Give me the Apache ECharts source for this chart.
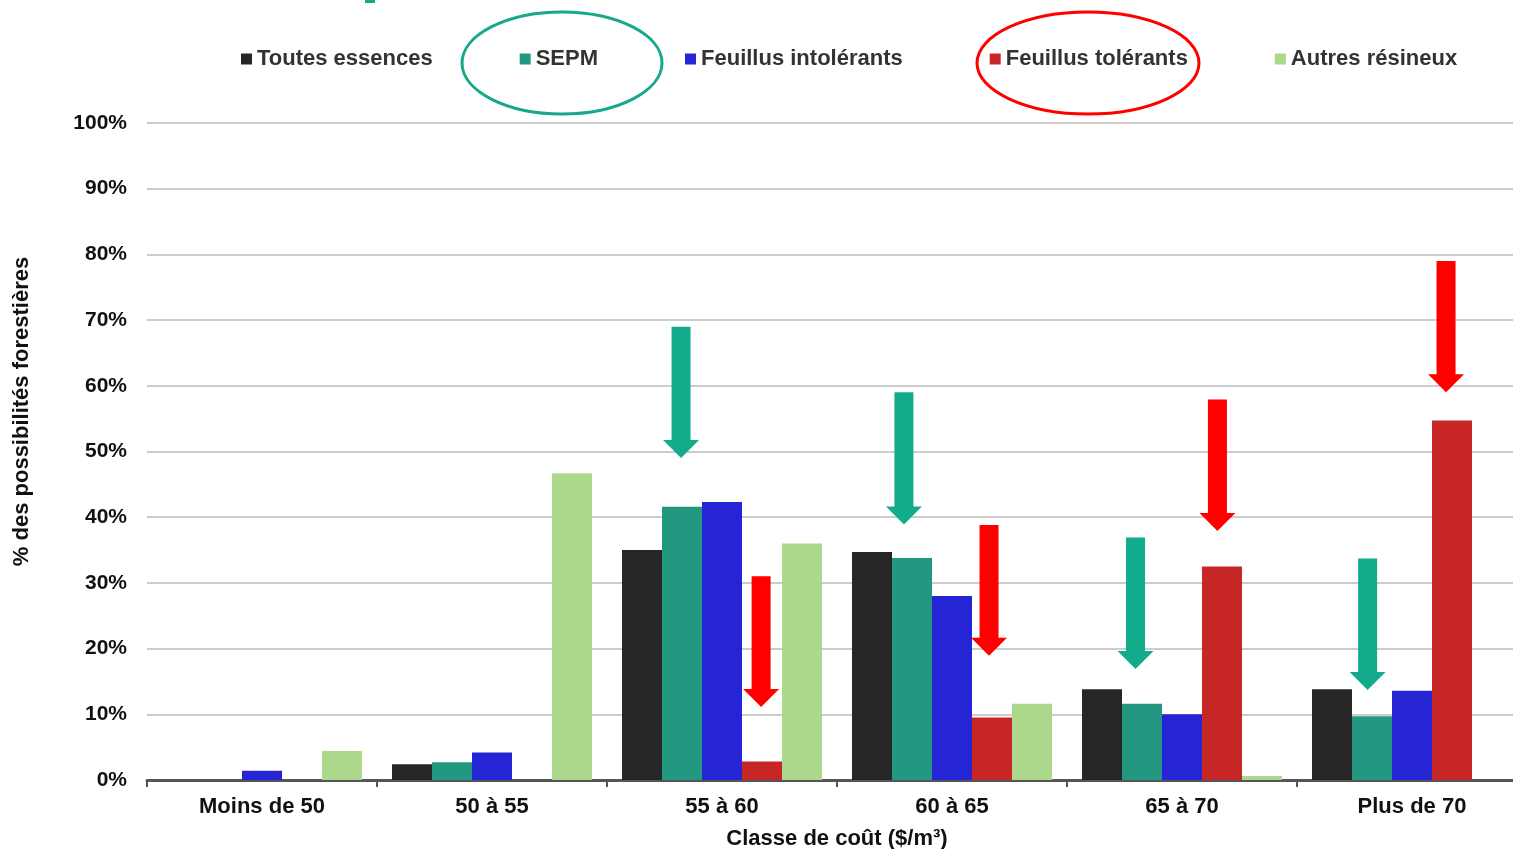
<!DOCTYPE html>
<html>
<head>
<meta charset="utf-8">
<script src="https://cdn.jsdelivr.net/npm/echarts@6/dist/echarts.min.js"></script>
<style>
html,body{margin:0;padding:0;background:#fff;}
#chart{width:1513px;height:849px;}
</style>
</head>
<body>
<div id="chart"></div>
<script>
// ---- Data ----
const categories = ['Moins de 50', '50 à 55', '55 à 60', '60 à 65', '65 à 70', 'Plus de 70'];
const seriesNames = ['Toutes essences', 'SEPM', 'Feuillus intolérants', 'Feuillus tolérants', 'Autres résineux'];
const toutesEssences   = [0,   2.4, 35.0, 34.7, 13.8, 13.8];
const sepm             = [0,   2.7, 41.6, 33.8, 11.6,  9.7];
const feuillusIntol    = [1.4, 4.2, 42.3, 28.0, 10.0, 13.6];
const feuillusTol      = [0,   0,    2.8,  9.5, 32.5, 54.7];
const autresResineux   = [4.4, 46.7, 36.0, 11.6, 0.6,  0];
const yTicks = [0, 10, 20, 30, 40, 50, 60, 70, 80, 90, 100];
// Annotation arrows: [categoryIndex, offset within category (fraction of band), yStart %, yTip %]
const tealArrows = [[2, -0.178, 69.0, 49.0], [3, -0.209, 59.0, 38.9], [4, -0.202, 36.9, 16.9], [5, -0.193, 33.7, 13.7]];
const redArrows  = [[2, 0.170, 31.0, 11.1], [3, 0.161, 38.8, 18.9], [4, 0.154, 57.9, 37.9], [5, 0.148, 79.0, 59.0]];

const colors = ['#262626', '#23977f', '#2525d6', '#c72626', '#acd88b'];
const valueSets = [toutesEssences, sepm, feuillusIntol, feuillusTol, autresResineux];
const FONT = '"Liberation Sans", Arial, Helvetica, sans-serif';

function arrowRender(color) {
  return function (params, api) {
    const c = api.value(0), frac = api.value(1);
    const pTop = api.coord([c, api.value(2)]);
    const pTip = api.coord([c, api.value(3)]);
    const bw = api.size([1, 0])[0];
    const x = pTop[0] + frac * bw;
    const top = pTop[1], tip = pTip[1];
    const sw = 9.5, hw = 18, hh = 18;
    return {
      type: 'polygon',
      shape: { points: [[x - sw, top], [x + sw, top], [x + sw, tip - hh], [x + hw, tip - hh], [x, tip], [x - hw, tip - hh], [x - sw, tip - hh]] },
      style: { fill: color }
    };
  };
}

const series = seriesNames.map((n, i) => ({
  name: n,
  type: 'bar',
  data: valueSets[i],
  barWidth: 40,
  barGap: '0%',
  itemStyle: { color: colors[i] },
  emphasis: { disabled: true }
}));
series.push({
  name: 'tealArrows', type: 'custom', data: tealArrows, renderItem: arrowRender('#12ac8c'),
  encode: { x: 0, y: [2, 3] }, z: 10, silent: true
});
series.push({
  name: 'redArrows', type: 'custom', data: redArrows, renderItem: arrowRender('#ff0000'),
  encode: { x: 0, y: [2, 3] }, z: 10, silent: true
});

const chart = echarts.init(document.getElementById('chart'));
chart.setOption({
  animation: false,
  backgroundColor: '#ffffff',
  textStyle: { fontFamily: FONT },
  legend: {
    data: seriesNames,
    left: 236, top: 43,
    icon: 'rect', itemWidth: 11, itemHeight: 11, itemGap: 87,
    selectedMode: false,
    textStyle: { fontFamily: FONT, fontSize: 22, fontWeight: 'bold', color: '#333', lineHeight: 22 }
  },
  grid: { left: 147, width: 1380, top: 123, height: 657, containLabel: false, outerBoundsMode: 'none' },
  xAxis: {
    type: 'category',
    data: categories,
    axisLine: { lineStyle: { color: '#555', width: 3 } },
    axisTick: { show: true, length: 7, lineStyle: { color: '#555', width: 2 } },
    axisLabel: { fontFamily: FONT, fontSize: 22, fontWeight: 'bold', color: '#111', margin: 16 },
    name: 'Classe de coût ($/m³)',
    nameLocation: 'middle', nameGap: 48,
    nameTextStyle: { fontFamily: FONT, fontSize: 22, fontWeight: 'bold', color: '#111' }
  },
  yAxis: {
    type: 'value', min: 0, max: 100, interval: 10,
    axisLine: { show: false }, axisTick: { show: false },
    axisLabel: {
      fontFamily: FONT, fontSize: 21, fontWeight: 'bold', color: '#111', margin: 20,
      formatter: v => yTicks.includes(v) ? v + '%' : ''
    },
    splitLine: { lineStyle: { color: '#cccccc', width: 2 } },
    name: '% des possibilités forestières',
    nameLocation: 'middle', nameRotate: 90, nameGap: 114,
    nameTextStyle: { fontFamily: FONT, fontSize: 22, fontWeight: 'bold', color: '#111', padding: [0, 0, 0, 80] }
  },
  graphic: [
    { type: 'ellipse', shape: { cx: 562, cy: 63, rx: 100, ry: 51 }, style: { fill: 'none', stroke: '#17a88b', lineWidth: 3 }, z: 100 },
    { type: 'ellipse', shape: { cx: 1088, cy: 63, rx: 111, ry: 51 }, style: { fill: 'none', stroke: '#ff0000', lineWidth: 3 }, z: 100 },
    { type: 'rect', shape: { x: 365, y: 0, width: 10, height: 3 }, style: { fill: '#17a88b' }, z: 100 }
  ],
  series: series
});
</script>
</body>
</html>
